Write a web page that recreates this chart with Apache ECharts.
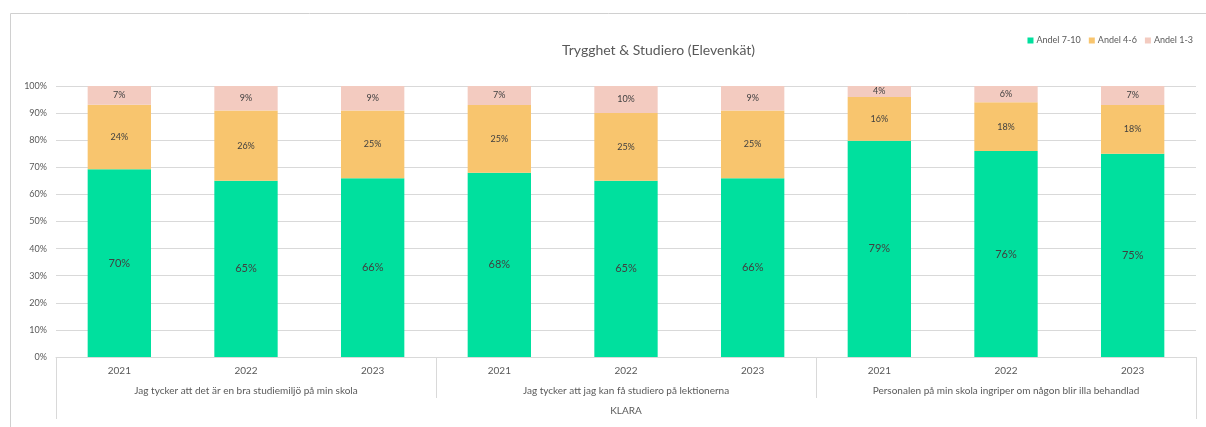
<!DOCTYPE html>
<html><head><meta charset="utf-8">
<script src="https://cdn.jsdelivr.net/npm/echarts@6/dist/echarts.min.js"></script>
<style>html,body{margin:0;padding:0;background:#fff}#c{width:1206px;height:427px}</style>
</head><body><div id="c"></div>
<script>
const years = ['2021','2022','2023','2021','2022','2023','2021','2022','2023'];
const groups = ['Jag tycker att det är en bra studiemiljö på min skola','Jag tycker att jag kan få studiero på lektionerna','Personalen på min skola ingriper om någon blir illa behandlad'];
const outer = ['KLARA'];
const andel710 = [70,65,66,68,65,66,79,76,75];
const andel46 = [24,26,25,25,25,25,16,18,18];
const andel13 = [7,9,9,7,10,9,4,6,7];
const yTicks = [0,10,20,30,40,50,60,70,80,90,100];

const totals = andel710.map((v,i)=>v+andel46[i]+andel13[i]);
const share = arr => arr.map((v,i)=>({value: v/totals[i]*100, raw: v}));
const font = 'Lato, "Open Sans", sans-serif';
const grey = '#595959';
const mk = (name, arr, color, fs) => ({
  name, type:'bar', stack:'s', xAxisIndex:0, barWidth:'50%',
  data: share(arr), itemStyle:{color},
  label:{show:true, position:'inside', color:'#404040', fontSize:fs, fontFamily:font,
    formatter: p => p.data.raw + '%'}
});
const chart = echarts.init(document.getElementById('c'), null, {renderer:'canvas'});
chart.setOption({
  animation:false,
  textStyle:{fontFamily:font},
  title:{text:'Trygghet & Studiero (Elevenkät)', left:557, top:38,
    textStyle:{color:grey, fontSize:14, fontWeight:'normal', fontFamily:font}},
  legend:{right:8, top:31, itemWidth:6, itemHeight:6, itemGap:8, icon:'rect',
    textStyle:{color:grey, fontSize:9, fontFamily:font, padding:[0,0,0,-2]}},
  grid:{left:56, right:10, top:86, bottom:70},
  graphic:[{type:'rect', shape:{x:10.5, y:13.5, width:1300, height:500}, style:{fill:'none', stroke:'#d0d0d0', lineWidth:1}, silent:true}],
  yAxis:{type:'value', min:0, max:100, interval:10,
    axisLabel:{formatter:'{value}%', color:grey, fontSize:9, fontFamily:font, margin:9},
    axisLine:{show:false}, axisTick:{show:false},
    splitLine:{lineStyle:{color:'#d9d9d9'}}},
  xAxis:[
    {type:'category', data:years, position:'bottom',
      axisLine:{lineStyle:{color:'#d9d9d9'}}, axisTick:{show:false},
      axisLabel:{color:grey, fontSize:10, fontFamily:font, margin:9}},
    {type:'category', data:groups, position:'bottom',
      axisLine:{show:false}, axisTick:{show:true, length:41, lineStyle:{color:'#d9d9d9'}},
      axisLabel:{color:grey, fontSize:10, fontFamily:font, margin:29, interval:0}},
    {type:'category', data:outer, position:'bottom',
      axisLine:{show:false}, axisTick:{show:true, length:62, lineStyle:{color:'#d9d9d9'}},
      axisLabel:{color:grey, fontSize:10, fontFamily:font, margin:49}}
  ],
  series:[
    mk('Andel 7-10', andel710, '#00e09e', 11),
    mk('Andel 4-6', andel46, '#f8c56e', 9),
    mk('Andel 1-3', andel13, '#f3cbc0', 9)
  ]
});
</script></body></html>
